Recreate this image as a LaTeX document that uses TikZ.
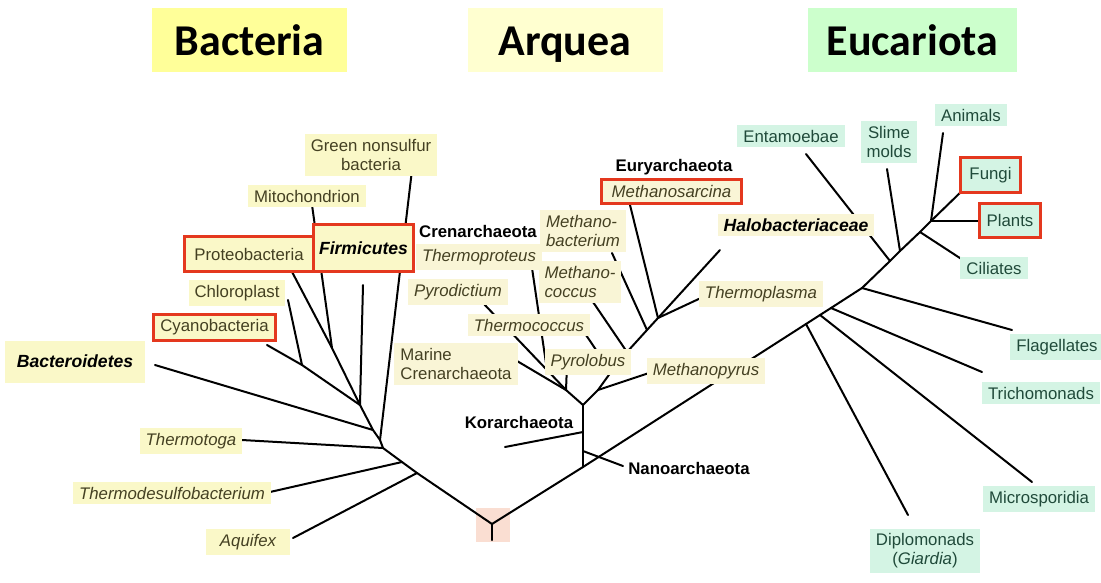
\documentclass[tikz,border=0pt]{standalone}
\usepackage{fontspec}
\setmainfont{Liberation Sans}
\newfontfamily\titlefont{Carlito}
\usepackage{tikz}
\definecolor{bacbox}{RGB}{255,255,153}
\definecolor{arqbox}{RGB}{255,255,208}
\definecolor{eucbox}{RGB}{204,255,204}
\definecolor{bacfill}{RGB}{250,248,200}
\definecolor{arqfill}{RGB}{249,245,214}
\definecolor{eucfill}{RGB}{212,244,228}
\definecolor{labtext}{RGB}{68,64,34}
\definecolor{euctext}{RGB}{32,74,58}
\definecolor{hlred}{RGB}{228,56,30}
\definecolor{rootpink}{RGB}{250,222,210}
\newcommand\labsize{\fontsize{16.8}{19}\selectfont}
\newcommand\bigsize{\fontsize{17.6}{20}\selectfont}

\begin{document}
\begin{tikzpicture}[x=1pt, y=-1pt,
  branch/.style={line width=2pt, line cap=round},
  heading/.style={font=\titlefont\bfseries\fontsize{44}{48}\selectfont, minimum width=195pt, minimum height=64pt,
    inner sep=0pt, text height=30pt, text depth=0pt},
  lab/.style={font=\labsize, inner xsep=6pt, inner ysep=5pt, text=labtext},
  bac/.style={lab, fill=bacfill},
  bacit/.style={bac, font=\labsize\itshape},
  arq/.style={lab, fill=arqfill},
  arqit/.style={arq, font=\labsize\itshape},
  euc/.style={lab, fill=eucfill, text=euctext},
  strong/.style={font=\bigsize\bfseries\itshape, text=black},
  clade/.style={font=\labsize\bfseries, inner sep=2pt},
  boxed/.style={draw=hlred, line width=3.2pt, inner sep=0pt}
]
\useasboundingbox (0,0) rectangle (1101,582);
\node[fill=rootpink, minimum size=34pt, inner sep=0pt] (rootbox) at (493,525) {};

\coordinate (root) at (492,524);
\coordinate (rootstub) at (492,540);
\coordinate (bA) at (417,473);
\coordinate (bT) at (402,462);
\coordinate (bG) at (383,448);
\coordinate (bN) at (380,440);
\coordinate (bB) at (373,430);
\coordinate (bJ) at (360,405);
\coordinate (bM) at (332,348);
\coordinate (bC) at (302,365);
\coordinate (aquifexend) at (293,538);
\coordinate (thdesend) at (270,492);
\coordinate (thtogaend) at (242,440);
\coordinate (greenend) at (412,170);
\coordinate (bacteroend) at (155,365);
\coordinate (firmend) at (363,285);
\coordinate (proteoend) at (290,268);
\coordinate (mitoend) at (312,205);
\coordinate (cyanoend) at (267,345);
\coordinate (chloroend) at (288,300);

\coordinate (aR) at (583,467);
\coordinate (aN) at (583,451);
\coordinate (aK) at (583,432);
\coordinate (aCE) at (583,405);
\coordinate (aC) at (566,390);
\coordinate (aP) at (547,370);
\coordinate (aE1) at (598,390);
\coordinate (aE2) at (611,372);
\coordinate (aE3) at (627,352);
\coordinate (aE4) at (647,330);
\coordinate (aE5) at (658,318);
\coordinate (nanoend) at (623,466);
\coordinate (korend) at (505,447);
\coordinate (marineend) at (512,358);
\coordinate (pyrolend) at (567,365);
\coordinate (pyrodend) at (483,303);
\coordinate (thprotend) at (532,268);
\coordinate (mpyrend) at (652,372);
\coordinate (thcocend) at (586,335);
\coordinate (mcocend) at (593,302);
\coordinate (mbacend) at (612,253);
\coordinate (msarend) at (630,205);
\coordinate (haloend) at (720,250);
\coordinate (thplend) at (703,297);

\coordinate (eD) at (806,324);
\coordinate (eM) at (820,315);
\coordinate (eT) at (831,308);
\coordinate (eF) at (862,288);
\coordinate (eE) at (890,261);
\coordinate (eS) at (900,251);
\coordinate (eC) at (920,232);
\coordinate (eP) at (931,221);
\coordinate (diploend) at (908,515);
\coordinate (microend) at (1032,482);
\coordinate (trichoend) at (982,372);
\coordinate (flagend) at (1012,330);
\coordinate (entaend) at (806,154);
\coordinate (slimeend) at (887,169);
\coordinate (ciliend) at (966,262);
\coordinate (plantend) at (978,221);
\coordinate (animend) at (943,133);
\coordinate (fungiend) at (965,188);

\foreach \a/\b in {root/rootstub, root/bA, bA/bT, bT/bG, bG/bN, bN/bB, bB/bJ, bJ/bM, bM/proteoend,
  bM/mitoend, bJ/bC, bC/cyanoend, bC/chloroend, bJ/firmend, bN/greenend, bB/bacteroend,
  bG/thtogaend, bT/thdesend, bA/aquifexend}
  \draw[branch] (\a) -- (\b);
\foreach \a/\b in {root/aR, aR/aN, aN/aK, aK/aCE, aN/nanoend, aK/korend, aCE/aC, aC/marineend,
  aC/pyrolend, aC/aP, aP/pyrodend, aP/thprotend, aCE/aE1, aE1/aE2, aE2/aE3, aE3/aE4, aE4/aE5,
  aE1/mpyrend, aE2/thcocend, aE3/mcocend, aE4/mbacend, aE5/msarend, aE5/haloend, aE5/thplend}
  \draw[branch] (\a) -- (\b);
\foreach \a/\b in {aR/eD, eD/eM, eM/eT, eT/eF, eF/eE, eE/eS, eS/eC, eC/eP, eP/fungiend,
  eD/diploend, eM/microend, eT/trichoend, eF/flagend, eE/entaend, eS/slimeend, eC/ciliend,
  eP/plantend, eP/animend}
  \draw[branch] (\a) -- (\b);

\node[bac, align=center] (green) at (371,155) {Green nonsulfur\\bacteria};
\node[bac] (mito) at (307,196) {Mitochondrion};
\node[bac, boxed, minimum width=129pt, minimum height=35pt] (proteo) at (249,254) {Proteobacteria};
\node[bac, boxed, strong, minimum width=100pt, minimum height=47pt] (firm) at (363.5,248) {Firmicutes};
\node[bac] (chloro) at (237,293) {Chloroplast};
\node[bac, boxed, minimum width=122pt, minimum height=26pt] (cyano) at (214.5,327.5) {Cyanobacteria};
\node[bac, strong, minimum width=140pt, minimum height=42pt] (bactero) at (75,361.5) {Bacteroidetes};
\node[bacit] (thtoga) at (191,441) {Thermotoga};
\node[bacit] (thdes) at (172,493) {Thermodesulfobacterium};
\node[bacit, minimum width=84pt] (aquifex) at (248,542) {Aquifex};

\node[clade] (cren) at (478,231) {Crenarchaeota};
\node[arqit] (thprot) at (479,257) {Thermoproteus};
\node[arqit] (pyrod) at (458,292) {Pyrodictium};
\node[arqit] (thcoc) at (529,325) {Thermococcus};
\node[arq, align=left] (marine) at (456,364) {Marine\\Crenarchaeota};
\node[arqit] (pyrol) at (588,362) {Pyrolobus};
\node[clade] (kor) at (519,422) {Korarchaeota};
\node[clade] (nano) at (689,468) {Nanoarchaeota};
\node[clade] (eury) at (674,167) {Euryarchaeota};
\node[arqit, boxed, minimum width=140pt, minimum height=24pt] (msar) at (671.5,191.5) {Methanosarcina};
\node[arqit, align=left] (mbac) at (583,231) {Methano-\\bacterium};
\node[arqit, align=left] (mcoc) at (580,282) {Methano-\\coccus};
\node[arq, strong] (halo) at (796,225) {Halobacteriaceae};
\node[arqit] (thpl) at (761,294) {Thermoplasma};
\node[arqit] (mpyr) at (706,371) {Methanopyrus};

\node[euc] (enta) at (791,136) {Entamoebae};
\node[euc, align=center] (slime) at (889,142) {Slime\\molds};
\node[euc] (anim) at (971,115) {Animals};
\node[euc, boxed, minimum width=60pt, minimum height=35pt] (fungi) at (990.5,175) {Fungi};
\node[euc, boxed, minimum width=61pt, minimum height=34pt] (plants) at (1010,220.5) {Plants};
\node[euc] (cili) at (994,268) {Ciliates};
\node[euc] (flag) at (1057,347) {Flagellates};
\node[euc] (tricho) at (1041,393) {Trichomonads};
\node[euc] (micro) at (1039,499) {Microsporidia};
\node[euc, align=center] (diplo) at (925,551) {Diplomonads\\(\textit{Giardia})};

\node[heading, fill=bacbox] (bacteria) at (249.5,40) {Bacteria};
\node[heading, fill=arqbox] (arquea) at (565,40) {Arquea};
\node[heading, fill=eucbox, minimum width=209pt] (eucariota) at (912.5,40) {Eucariota};
\end{tikzpicture}
\end{document}
